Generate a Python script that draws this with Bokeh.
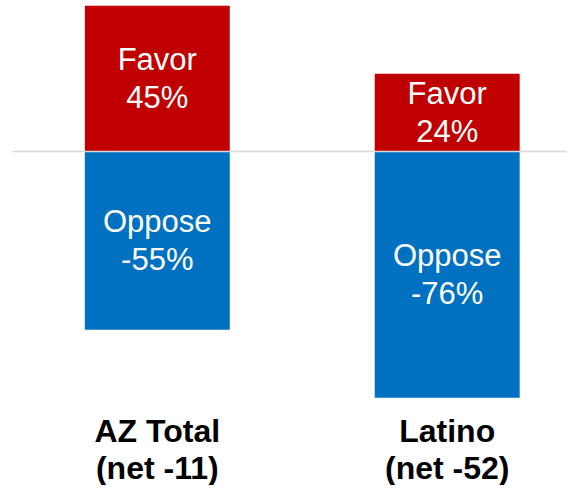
from bokeh.plotting import figure
from bokeh.models import ColumnDataSource, Range1d
from bokeh.core.properties import value
from bokeh.embed import file_html
from bokeh.resources import INLINE

categories = ["AZ Total", "Latino"]
favor = [45, 24]
oppose = [-55, -76]
net = [-11, -52]

RED = "#C00000"
BLUE = "#0070C0"
FONT = "Liberation Sans"

x = list(range(len(categories)))
src = ColumnDataSource(dict(
    x=x,
    favor=favor,
    oppose=oppose,
    zero=[0] * len(x),
    fav_mid=[f / 2 for f in favor],
    opp_mid=[o / 2 for o in oppose],
    fav_lbl=[f"Favor\n{f}%" for f in favor],
    opp_lbl=[f"Oppose\n{o}%" for o in oppose],
    cat_lbl=[f"{c}\n(net {n})" for c, n in zip(categories, net)],
    cat_y=[-92.0] * len(x),
))

W, H = 567, 485
px_unit_x = 289.9
x0 = -156.8 / px_unit_x
px_unit_y = 3.24
y_end = 151 / px_unit_y
y_start = y_end - H / px_unit_y

p = figure(width=W, height=H, output_backend="svg", toolbar_location=None,
           x_range=Range1d(x0, x0 + W / px_unit_x),
           y_range=Range1d(y_start, y_end),
           min_border=0)
p.axis.visible = False
p.grid.visible = False
p.outline_line_color = None
p.background_fill_color = "white"
p.border_fill_color = "white"

p.vbar(x="x", width=0.5, bottom="zero", top="favor", source=src,
       fill_color=RED, line_color=None)
p.vbar(x="x", width=0.5, bottom="oppose", top="zero", source=src,
       fill_color=BLUE, line_color=None)

p.line(x=[-0.5, 1.6], y=[0, 0], line_color="#d9d9d9", line_width=1.5)

p.text(x="x", y="fav_mid", text="fav_lbl", source=src,
       text_font=value(FONT), text_font_size="31px", text_color="white",
       text_align="center", text_baseline="middle", text_line_height=1.08)
p.text(x="x", y="opp_mid", text="opp_lbl", source=src,
       text_font=value(FONT), text_font_size="31px", text_color="white",
       text_align="center", text_baseline="middle", text_line_height=1.08)
p.text(x="x", y="cat_y", text="cat_lbl", source=src,
       text_font=value(FONT), text_font_size="32px", text_font_style="bold",
       text_color="black", text_align="center", text_baseline="middle",
       text_line_height=1.05)

open("out.html", "w").write(file_html(p, INLINE))
